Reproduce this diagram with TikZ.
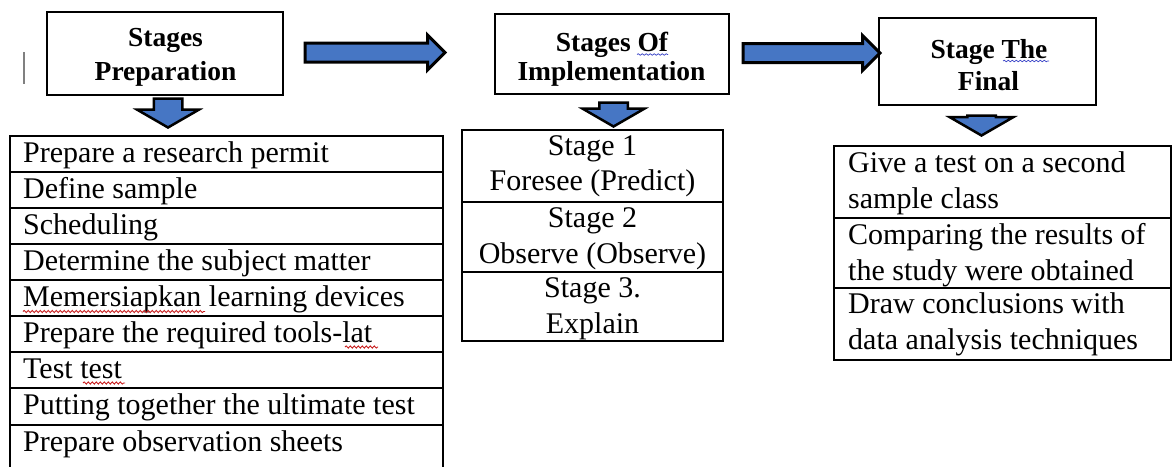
\documentclass[tikz,border=0pt]{standalone}
\usepackage{fontspec}
\setmainfont{Liberation Serif}
\usetikzlibrary{shapes.arrows,decorations.pathmorphing}
\definecolor{arrowblue}{RGB}{70,118,196}
\definecolor{spellblue}{RGB}{60,70,200}
\definecolor{spellred}{RGB}{200,30,30}
\begin{document}
\begin{tikzpicture}[x=1pt,y=-1pt,
  box/.style={draw, line width=1.6pt, inner sep=0pt, outer sep=0pt},
  head/.style={font=\fontsize{27.5}{33}\selectfont\bfseries, inner sep=0pt, anchor=base},
  item/.style={font=\fontsize{30}{36}\selectfont, inner sep=0pt, anchor=base west},
  citem/.style={font=\fontsize{30}{36}\selectfont, inner sep=0pt, anchor=base},
  harrow/.style={single arrow, draw=black, line width=3pt, fill=arrowblue,
    inner xsep=0pt, inner ysep=8pt, single arrow head extend=8pt, outer sep=0pt, anchor=tip},
  darrow/.style={single arrow, draw=black, line width=2.5pt, fill=arrowblue,
    single arrow tip angle=120, inner xsep=0pt, inner ysep=13pt, outer sep=0pt, anchor=tip, rotate=-90},
  spell/.style={decorate, decoration={snake, segment length=4pt, amplitude=1.1pt}, line width=0.9pt}
]
\useasboundingbox (0,0) rectangle (1173,466);
\fill[white] (0,0) rectangle (1173,466);

% cursor mark
\draw[gray, line width=2pt] (24,52) -- (24,84);

% header boxes
\node[box, minimum width=236pt, minimum height=83pt] (h1) at (165,53.5) {};
\node[head] (h1a) at (165.5,46.5) {Stages};
\node[head] (h1b) at (165.5,80.5) {Preparation};

\node[box, minimum width=234pt, minimum height=80pt] (h2) at (612,54) {};
\node[head] (h2a) at (612,51.5) {Stages Of};
\node[head] (h2b) at (611.5,80) {Implementation};

\node[box, minimum width=217pt, minimum height=87pt] (h3) at (987.5,61.5) {};
\node[head] (h3a) at (989,58.5) {Stage The};
\node[head] (h3b) at (988.5,90.5) {Final};

% horizontal block arrows
\node[harrow, minimum height=140pt] (a1) at (445,52.5) {};
\node[harrow, minimum height=137pt] (a2) at (880,53) {};

% down block arrows
\node[darrow, minimum height=29pt, single arrow head extend=16.5pt] (d1) at (168,127.5) {};
\node[darrow, minimum height=24pt, single arrow head extend=16.5pt] (d2) at (613.5,126.5) {};
\node[darrow, minimum height=20pt, single arrow head extend=17.5pt] (d3) at (981.5,135.5) {};

% list 1
\foreach \t/\h [count=\i] in {136/36,172/36,208/36,244/36,280/36,316/36,352/36,388/37,425/45}{
  \node[box, minimum width=433pt, minimum height=\h pt, anchor=north west] (r\i) at (10,\t) {};
}
\node[item] (p1) at (23,162) {Prepare a research permit};
\node[item] (p2) at (23,198) {Define sample};
\node[item] (p3) at (23,234) {Scheduling};
\node[item] (p4) at (23,270) {Determine the subject matter};
\node[item] (p5) at (23,306) {Memersiapkan learning devices};
\node[item] (p6) at (23,342) {Prepare the required tools-lat};
\node[item] (p7) at (23,378) {Test test};
\node[item] (p8) at (23,414) {Putting together the ultimate test};
\node[item] (p9) at (23,451) {Prepare observation sheets};

% list 2
\node[box, minimum width=261pt, minimum height=72pt, anchor=north west] (s1) at (462,130) {};
\node[box, minimum width=261pt, minimum height=70pt, anchor=north west] (s2) at (462,202) {};
\node[box, minimum width=261pt, minimum height=69pt, anchor=north west] (s3) at (462,272) {};
\node[citem] (s1a) at (592.5,155) {Stage 1};
\node[citem] (s1b) at (592.5,190) {Foresee (Predict)};
\node[citem] (s2a) at (592.5,227) {Stage 2};
\node[citem] (s2b) at (592.5,263) {Observe (Observe)};
\node[citem] (s3a) at (592.5,297) {Stage 3.};
\node[citem] (s3b) at (592.5,333) {Explain};

% list 3
\node[box, minimum width=337pt, minimum height=72pt, anchor=north west] (f1) at (834,146) {};
\node[box, minimum width=337pt, minimum height=70pt, anchor=north west] (f2) at (834,218) {};
\node[box, minimum width=337pt, minimum height=72pt, anchor=north west] (f3) at (834,288) {};
\node[item] (f1a) at (848,172) {Give a test on a second};
\node[item] (f1b) at (848,208) {sample class};
\node[item] (f2a) at (848,244) {Comparing the results of};
\node[item] (f2b) at (848,280) {the study were obtained};
\node[item] (f3a) at (848,313) {Draw conclusions with};
\node[item] (f3b) at (848,349) {data analysis techniques};

% spell-check underlines
\draw[spell, spellblue, line width=0.7pt, decoration={amplitude=0.8pt}] (637,54.5) -- (668,54.5);
\draw[spell, spellblue, line width=0.7pt, decoration={amplitude=0.8pt}] (1003,61) -- (1049,61);
\draw[spell, spellred] (23,311.5) -- (205,311.5);
\draw[spell, spellred] (345,347) -- (378,347);
\draw[spell, spellred] (83,383) -- (125,383);
\end{tikzpicture}
\end{document}
